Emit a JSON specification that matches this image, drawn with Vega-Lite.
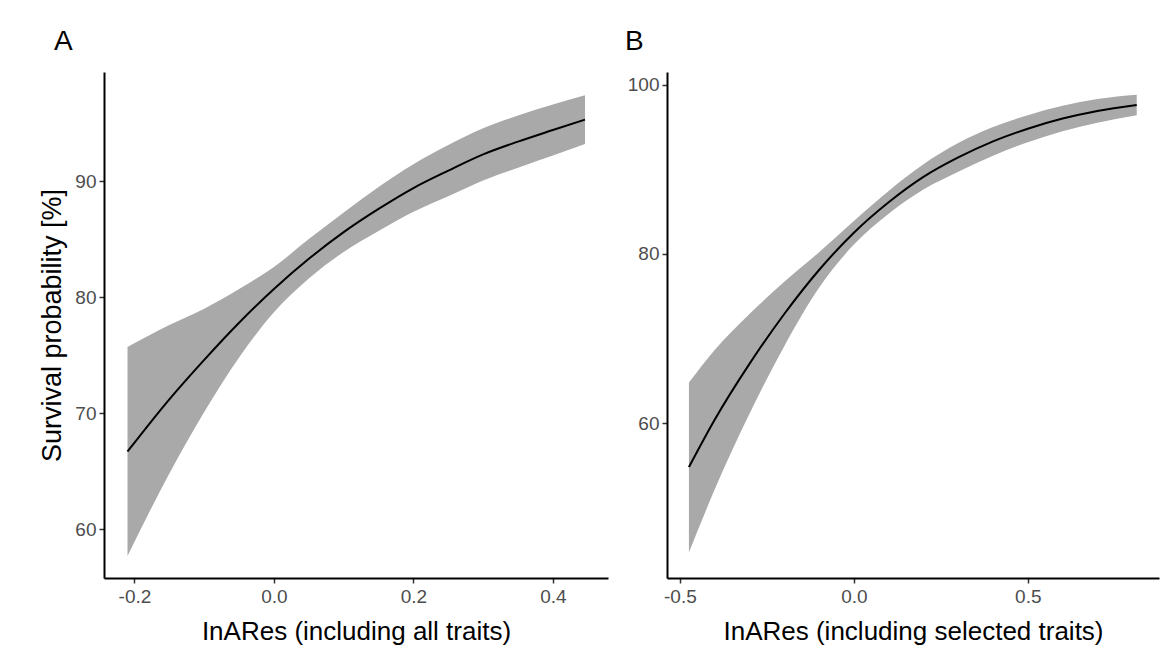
{
  "$schema": "https://vega.github.io/schema/vega-lite/v6.json",
  "autosize": {"type": "none"},
  "padding": {"left": 104, "top": 72, "right": 1057, "bottom": 574},
  "background": "white",
  "bounds": "flush",
  "spacing": 59,
  "config": {
    "view": {"stroke": null},
    "font": "Liberation Sans",
    "axis": {
      "domainColor": "#000000",
      "domainWidth": 2,
      "tickColor": "#333333",
      "tickWidth": 1.5,
      "tickSize": 5,
      "labelColor": "#4d4d4d",
      "labelFontSize": 19,
      "labelFont": "Liberation Sans",
      "labelExpr": "replace(datum.label, '\u2212', '-')",
      "titleFont": "Liberation Sans",
      "titleFontSize": 26,
      "titleFontWeight": "normal",
      "titleColor": "#000000",
      "grid": false
    }
  },
  "datasets": {
    "a": [
      {"x": -0.21, "fit": 66.7, "lo": 57.7, "hi": 75.7},
      {"x": -0.15, "fit": 71.2, "lo": 64.8, "hi": 77.6},
      {"x": -0.1, "fit": 74.6, "lo": 70.1, "hi": 79.0},
      {"x": -0.05, "fit": 77.8, "lo": 74.8, "hi": 80.7},
      {"x": 0.0, "fit": 80.7, "lo": 78.7, "hi": 82.6},
      {"x": 0.05, "fit": 83.3, "lo": 81.6, "hi": 85.0},
      {"x": 0.1, "fit": 85.6, "lo": 83.9, "hi": 87.3},
      {"x": 0.15, "fit": 87.6, "lo": 85.7, "hi": 89.5},
      {"x": 0.2, "fit": 89.4, "lo": 87.35, "hi": 91.45},
      {"x": 0.25, "fit": 90.9, "lo": 88.7, "hi": 93.1},
      {"x": 0.3, "fit": 92.3, "lo": 90.05, "hi": 94.55},
      {"x": 0.35, "fit": 93.4, "lo": 91.15, "hi": 95.65},
      {"x": 0.4, "fit": 94.4, "lo": 92.2, "hi": 96.6},
      {"x": 0.446, "fit": 95.3, "lo": 93.2, "hi": 97.4}
    ],
    "b": [
      {"x": -0.474, "fit": 54.8, "lo": 44.7, "hi": 64.8},
      {"x": -0.4, "fit": 60.4, "lo": 52.15, "hi": 68.65},
      {"x": -0.3, "fit": 67.0, "lo": 61.1, "hi": 72.9},
      {"x": -0.2, "fit": 72.9, "lo": 69.1, "hi": 76.7},
      {"x": -0.1, "fit": 78.1, "lo": 76.0, "hi": 80.2},
      {"x": 0.0, "fit": 82.5, "lo": 81.1, "hi": 83.9},
      {"x": 0.1, "fit": 86.1, "lo": 84.75, "hi": 87.45},
      {"x": 0.2, "fit": 89.1, "lo": 87.6, "hi": 90.6},
      {"x": 0.3, "fit": 91.4, "lo": 89.7, "hi": 93.1},
      {"x": 0.4, "fit": 93.3, "lo": 91.6, "hi": 95.0},
      {"x": 0.5, "fit": 94.8, "lo": 93.2, "hi": 96.4},
      {"x": 0.6, "fit": 96.0, "lo": 94.5, "hi": 97.5},
      {"x": 0.7, "fit": 96.9, "lo": 95.5, "hi": 98.3},
      {"x": 0.813, "fit": 97.6, "lo": 96.4, "hi": 98.8}
    ]
  },
  "hconcat": [
    {
      "width": 504,
      "height": 506,
      "title": {"text": "A", "anchor": "start", "frame": "group", "dx": -50, "fontSize": 28, "fontWeight": "normal", "baseline": "alphabetic", "offset": -6, "color": "#000000", "font": "Liberation Sans"},
      "data": {"name": "a"},
      "encoding": {
        "x": {
          "field": "x", "type": "quantitative",
          "scale": {"domain": [-0.2437, 0.479], "nice": false, "zero": false},
          "axis": {"values": [-0.2, 0, 0.2, 0.4], "format": ".1f", "title": "InARes (including all traits)", "labelPadding": 4, "titlePadding": 12}
        }
      },
      "layer": [
        {
          "mark": {"type": "area", "color": "#a9a9a9", "interpolate": "monotone"},
          "encoding": {
            "y": {"field": "lo", "type": "quantitative", "scale": {"domain": [55.8, 99.4], "nice": false, "zero": false},
                  "axis": {"values": [60, 70, 80, 90], "title": "Survival probability [%]", "titleFontSize": 27, "labelPadding": 3, "titlePadding": 8}},
            "y2": {"field": "hi"}
          }
        },
        {
          "mark": {"type": "line", "color": "#000000", "strokeWidth": 2, "interpolate": "monotone"},
          "encoding": {
            "y": {"field": "fit", "type": "quantitative", "scale": {"domain": [55.8, 99.4], "nice": false, "zero": false}}
          }
        }
      ]
    },
    {
      "width": 492,
      "height": 506,
      "title": {"text": "B", "anchor": "start", "frame": "group", "dx": -42, "fontSize": 28, "fontWeight": "normal", "baseline": "alphabetic", "offset": -6, "color": "#000000", "font": "Liberation Sans"},
      "data": {"name": "b"},
      "encoding": {
        "x": {
          "field": "x", "type": "quantitative",
          "scale": {"domain": [-0.537, 0.877], "nice": false, "zero": false},
          "axis": {"values": [-0.5, 0, 0.5], "format": ".1f", "title": "InARes (including selected traits)", "labelPadding": 4, "titlePadding": 12}
        }
      },
      "layer": [
        {
          "mark": {"type": "area", "color": "#a9a9a9", "interpolate": "monotone"},
          "encoding": {
            "y": {"field": "lo", "type": "quantitative", "scale": {"domain": [41.7, 101.5], "nice": false, "zero": false},
                  "axis": {"values": [60, 80, 100], "title": null, "labelPadding": 3}},
            "y2": {"field": "hi"}
          }
        },
        {
          "mark": {"type": "line", "color": "#000000", "strokeWidth": 2, "interpolate": "monotone"},
          "encoding": {
            "y": {"field": "fit", "type": "quantitative", "scale": {"domain": [41.7, 101.5], "nice": false, "zero": false}}
          }
        }
      ]
    }
  ]
}
